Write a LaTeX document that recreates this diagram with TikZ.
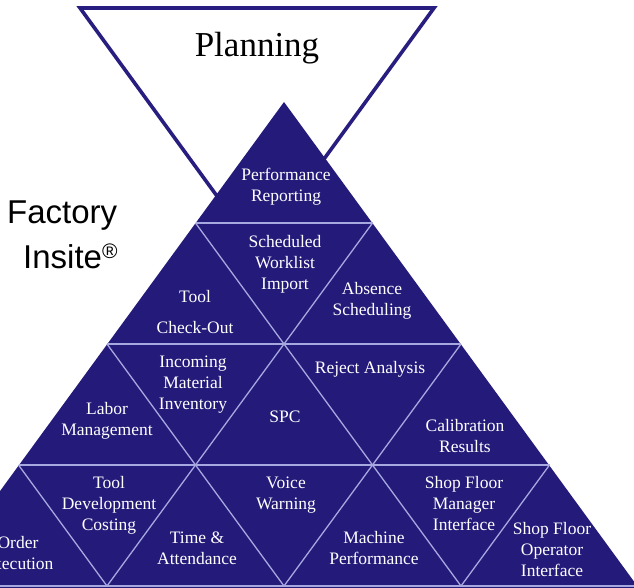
\documentclass[tikz,border=0pt]{standalone}
\usepackage{fontspec}
\setmainfont{Liberation Serif}
\newfontfamily\brandfont{Liberation Sans}
\definecolor{pyrfill}{RGB}{36,26,122}
\definecolor{gridcol}{RGB}{168,168,224}
\definecolor{plancol}{RGB}{40,30,128}
\begin{document}
\begin{tikzpicture}[x=1pt,y=-1pt,
  lbl/.style={text=white,font=\fontsize{17.5}{21}\selectfont,align=center,inner sep=0pt},
  hline/.style={draw=gridcol,line width=2pt},
  dline/.style={draw=gridcol,line width=1.3pt},
  brand/.style={font=\brandfont\fontsize{33}{40}\selectfont,inner sep=0pt,text=black},
  planedge/.style={draw=plancol,line width=3.6pt,line join=miter}]
\useasboundingbox (0,0) rectangle (634,588);
\clip (0,0) rectangle (634,588);
\fill[white] (0,0) rectangle (634,588);
% Planning (inverted triangle)
\draw[planedge] (80,8) -- (434,8) -- (257,251) -- cycle;
\node[font=\fontsize{35}{40}\selectfont,anchor=base,inner sep=0pt] (planning) at (257,57) {Planning};
% pyramid
\fill[pyrfill] (284,102) -- ({284-0.7299*498},600) -- ({284+0.7299*498},600) -- cycle;
\foreach \k in {1,...,4}
  \draw[hline] ({284-\k*88.5},{102+121*\k}) -- ({284+\k*88.5},{102+121*\k});
\foreach \j in {1,2,3}
  \draw[dline] ({284+\j*88.5},{102+121*\j}) -- ({284+(2*\j-4)*88.5},586);
\foreach \m in {1,2,3}
  \draw[dline] ({284-\m*88.5},{102+121*\m}) -- ({284+(4-2*\m)*88.5},586);
% brand
\node[brand,anchor=base west] (factory) at (7,223) {Factory};
\node[brand,anchor=base west] (insite) at (23,268) {Insite\raisebox{10pt}{\fontsize{21}{21}\selectfont ®}};
% labels
\node[lbl] (perfrep) at (286,186.8) {\strut Performance\\\strut Reporting};
\node[lbl] (sched) at (285,264) {\strut Scheduled\\\strut Worklist\\\strut Import};
\node[lbl] (toolco) at (195,313.3) {\strut Tool\\[10pt]\strut Check-Out};
\node[lbl] (absence) at (372,300.3) {\strut Absence\\\strut Scheduling};
\node[lbl] (labor) at (107,420.8) {\strut Labor\\\strut Management};
\node[lbl] (incoming) at (193,384.5) {\strut Incoming\\\strut Material\\\strut Inventory};
\node[lbl] (spc) at (285,417.8) {\strut SPC};
\node[lbl] (reject) at (370,368.8) {\strut Reject Analysis};
\node[lbl] (calib) at (465,437.8) {\strut Calibration\\\strut Results};
\node[lbl] (order) at (18,554.3) {\strut Order\\\strut Execution};
\node[lbl] (tooldev) at (109,505.1) {\strut Tool\\\strut Development\\\strut Costing};
\node[lbl] (time) at (197,549.8) {\strut Time \&\\\strut Attendance};
\node[lbl] (voice) at (286,494.8) {\strut Voice\\\strut Warning};
\node[lbl] (machine) at (374,549.8) {\strut Machine\\\strut Performance};
\node[lbl] (sfmi) at (464,504.8) {\strut Shop Floor\\\strut Manager\\\strut Interface};
\node[lbl] (sfoi) at (552,550.8) {\strut Shop Floor\\\strut Operator\\\strut Interface};
\end{tikzpicture}
\end{document}
